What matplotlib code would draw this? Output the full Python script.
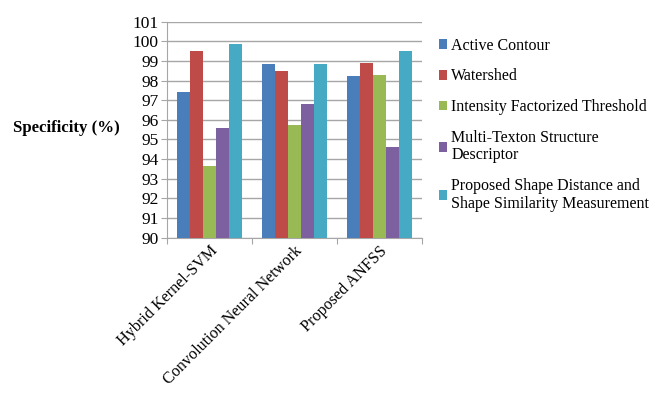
import numpy as np
import matplotlib.pyplot as plt

plt.rcParams['font.family'] = ['Liberation Serif', 'DejaVu Serif']

methods = ["Hybrid Kernel-SVM", "Convolution Neural Network", "Proposed ANFSS"]
series = ["Active Contour", "Watershed", "Intensity Factorized Threshold",
          "Multi-Texton Structure\nDescriptor",
          "Proposed Shape Distance and\nShape Similarity Measurement"]
active_contour = [97.44, 98.85, 98.23]
watershed = [99.5, 98.5, 98.88]
intensity_thr = [93.67, 95.75, 98.27]
multi_texton = [95.6, 96.8, 94.62]
shape_dist = [99.88, 98.85, 99.52]
colors = ["#4a7ebb", "#be4b48", "#98b954", "#7d60a0", "#46aac5"]

values = [active_contour, watershed, intensity_thr, multi_texton, shape_dist]

fig = plt.figure(figsize=(6.54, 4.0), dpi=100)
ax = fig.add_axes([0.2554, 0.406, 0.39, 0.54])

x = np.arange(len(methods)) + 0.5
w = 0.153
for i, (vals, c, lab) in enumerate(zip(values, colors, series)):
    ax.bar(x + (i - 2) * w, np.array(vals) - 90, bottom=90, width=w,
           color=c, label=lab, zorder=3, linewidth=0)

ax.set_xlim(0, 3)
ax.set_ylim(90, 101)
ax.set_yticks(range(90, 102))
ax.yaxis.grid(True, color="#a6a6a6", linewidth=1, zorder=0)
ax.set_xticks([0, 1, 2, 3])
ax.set_xticklabels([])
ax.set_xticks(x, minor=True)
ax.set_xticklabels(methods, minor=True, rotation=45, ha="right",
                   rotation_mode="anchor", fontsize=11.6)
ax.tick_params(axis="x", which="minor", length=0, pad=4)
ax.tick_params(axis="x", which="major", length=4, color="#a6a6a6", direction="out")
ax.tick_params(axis="y", length=4, color="#a6a6a6", labelsize=12.5, pad=2)
for s in ["top", "right"]:
    ax.spines[s].set_visible(False)
for s in ["left", "bottom"]:
    ax.spines[s].set_color("#a6a6a6")

fig.text(0.02, 0.68, "Specificity (%)", fontsize=12.1, fontweight="bold",
         va="center", ha="left")

leg = ax.legend(loc="upper left", bbox_to_anchor=(1.065, 0.925), frameon=False,
                fontsize=11.5, handlelength=0.55, handleheight=0.55,
                handletextpad=0.25, labelspacing=0.92, borderaxespad=0,
                borderpad=0)
for t in leg.get_texts():
    t.set_linespacing(1.13)

fig.savefig("out.png", dpi=100)
